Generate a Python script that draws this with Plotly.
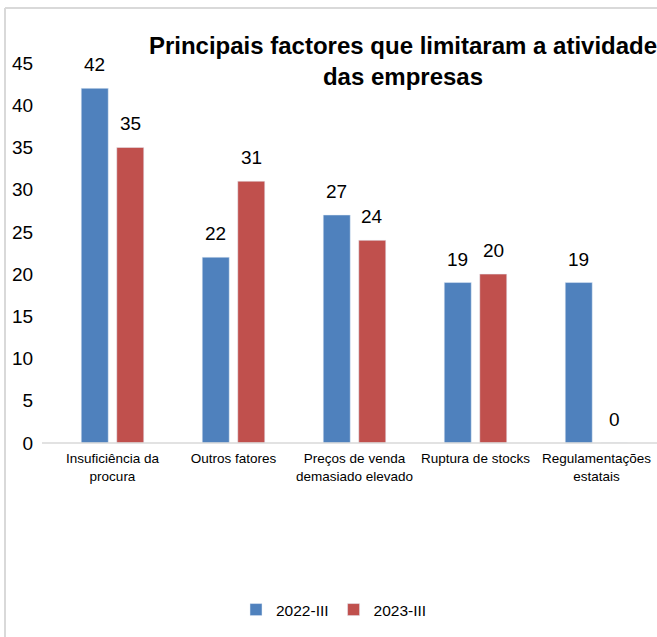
import plotly.graph_objects as go

categorias = ["Insuficiência da<br>procura", "Outros fatores", "Preços de venda<br>demasiado elevado",
              "Ruptura de stocks", "Regulamentações<br>estatais"]
valores_2022 = [42, 22, 27, 19, 19]
valores_2023 = [35, 31, 24, 20, 0]

W, H = 657, 637
L, T, B = 52, 63, 194
PW, PH = W - L, H - T - B

fig = go.Figure()
fig.add_trace(go.Bar(x=categorias, y=valores_2022, name="2022-III", marker_color="#4F81BD"))
fig.add_trace(go.Bar(x=categorias, y=valores_2023, name="2023-III", marker_color="#C0504D"))

# rótulos de dados, um pouco acima de cada barra
for serie, desloc in [(valores_2022, -17.75), (valores_2023, 17.75)]:
    for cat, v in zip(categorias, serie):
        fig.add_annotation(x=cat, y=v, xref="x", yref="y", text=str(v), showarrow=False,
                           xshift=desloc, yshift=23.5, yanchor="middle",
                           font=dict(size=19, color="#000000"))

# moldura cinzenta do gráfico
top = 1 + (T - 8) / PH
left = -(L - 5) / PW
fig.add_shape(type="line", xref="paper", yref="paper", x0=left, x1=1.1, y0=top, y1=top,
              line=dict(color="#D9D9D9", width=2))
fig.add_shape(type="line", xref="paper", yref="paper", x0=left, x1=left, y0=top, y1=-B / PH,
              line=dict(color="#D9D9D9", width=2))
# linha do eixo
fig.add_shape(type="line", xref="paper", yref="paper", x0=-10 / PW, x1=1, y0=0, y1=0,
              line=dict(color="#D9D9D9", width=1.5))

fig.update_layout(
    width=W, height=H,
    margin=dict(l=L, r=0, t=T, b=B),
    paper_bgcolor="white", plot_bgcolor="white",
    font=dict(family="Liberation Sans, Arial, sans-serif", color="#000000"),
    barmode="group", bargap=0.413, bargroupgap=0.24,
    title=dict(
        text="<b>Principais factores que limitaram a atividade<br>das empresas</b>",
        font=dict(size=24, color="#000000"),
        xref="paper", x=(403 - L) / PW, xanchor="center",
        yref="container", y=1 - 54 / H, yanchor="top"
    ),
    legend=dict(
        orientation="h", x=184 / PW, xanchor="left", y=-(610 - (T + PH)) / PH, yanchor="middle",
        font=dict(size=15.5), traceorder="normal"
    ),
    xaxis=dict(tickfont=dict(size=13.5), showline=False, ticks="outside", ticklen=3,
               tickcolor="rgba(0,0,0,0)"),
    yaxis=dict(range=[0, 45], dtick=5, showgrid=False, zeroline=False,
               tickfont=dict(size=19), ticks="outside", ticklen=14, tickcolor="rgba(0,0,0,0)"),
)

fig.write_html("out.html", config={"displayModeBar": False},
               post_script="document.body.style.margin='0';")
